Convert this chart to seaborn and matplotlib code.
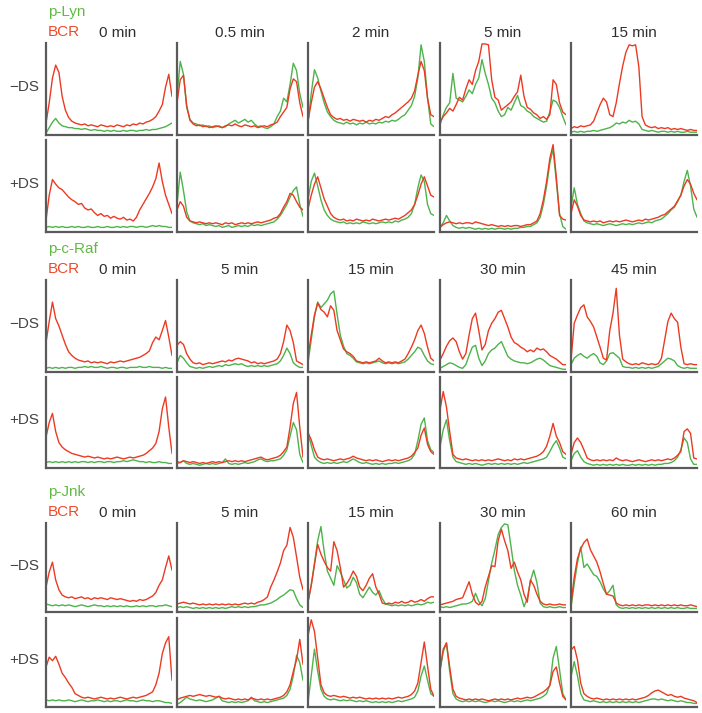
import numpy as np
import matplotlib
matplotlib.use("Agg")
import matplotlib.pyplot as plt
import seaborn as sns

W, H = 702, 713
GREEN = "#4DB34A"
RED = "#EC3A22"
LABEL_GREEN = "#62B946"
LABEL_RED = "#EE4A2C"
SPINE = "#5A5A5A"

# time points per marker
lyn_times = ["0 min", "0.5 min", "2 min", "5 min", "15 min"]
raf_times = ["0 min", "5 min", "15 min", "30 min", "45 min"]
jnk_times = ["0 min", "5 min", "15 min", "30 min", "60 min"]

# ---- p-Lyn, -DS (fraction of panel height along the line scan)
lyn_neg_c1_g = [0.02, 0.08, 0.14, 0.18, 0.13, 0.10, 0.09, 0.08, 0.08, 0.07, 0.07, 0.06, 0.07, 0.06, 0.05, 0.06, 0.05, 0.05, 0.04, 0.05, 0.04, 0.05, 0.04, 0.04, 0.05, 0.04, 0.05, 0.05, 0.04, 0.05, 0.05, 0.06, 0.05, 0.06, 0.06, 0.07, 0.08, 0.09, 0.11, 0.13]
lyn_neg_c1_r = [0.13, 0.35, 0.62, 0.76, 0.68, 0.42, 0.27, 0.19, 0.15, 0.13, 0.12, 0.11, 0.12, 0.10, 0.11, 0.10, 0.09, 0.11, 0.10, 0.09, 0.10, 0.09, 0.11, 0.10, 0.09, 0.11, 0.10, 0.12, 0.11, 0.13, 0.12, 0.14, 0.15, 0.17, 0.20, 0.26, 0.33, 0.52, 0.66, 0.42]
lyn_neg_c2_g = [0.42, 0.80, 0.66, 0.30, 0.17, 0.13, 0.12, 0.10, 0.11, 0.09, 0.10, 0.08, 0.09, 0.10, 0.08, 0.09, 0.12, 0.14, 0.16, 0.13, 0.15, 0.17, 0.14, 0.16, 0.12, 0.09, 0.10, 0.08, 0.07, 0.09, 0.12, 0.20, 0.26, 0.40, 0.36, 0.55, 0.78, 0.70, 0.45, 0.30]
lyn_neg_c2_r = [0.35, 0.60, 0.65, 0.32, 0.16, 0.12, 0.10, 0.11, 0.09, 0.10, 0.08, 0.09, 0.10, 0.09, 0.08, 0.10, 0.11, 0.10, 0.12, 0.10, 0.09, 0.11, 0.10, 0.09, 0.10, 0.08, 0.09, 0.10, 0.09, 0.11, 0.12, 0.14, 0.20, 0.25, 0.30, 0.50, 0.61, 0.58, 0.35, 0.20]
lyn_neg_c3_g = [0.13, 0.45, 0.71, 0.62, 0.48, 0.35, 0.25, 0.20, 0.16, 0.14, 0.13, 0.12, 0.14, 0.12, 0.13, 0.11, 0.13, 0.12, 0.14, 0.12, 0.13, 0.12, 0.14, 0.13, 0.15, 0.14, 0.16, 0.15, 0.17, 0.20, 0.22, 0.27, 0.32, 0.42, 0.62, 0.98, 0.80, 0.40, 0.12, 0.09]
lyn_neg_c3_r = [0.15, 0.35, 0.52, 0.58, 0.50, 0.40, 0.30, 0.22, 0.19, 0.17, 0.18, 0.16, 0.17, 0.15, 0.17, 0.16, 0.15, 0.16, 0.14, 0.16, 0.15, 0.17, 0.16, 0.18, 0.20, 0.19, 0.22, 0.24, 0.27, 0.30, 0.33, 0.36, 0.40, 0.48, 0.65, 0.80, 0.70, 0.40, 0.22, 0.20]
lyn_neg_c4_g = [0.11, 0.22, 0.30, 0.35, 0.67, 0.40, 0.38, 0.36, 0.42, 0.49, 0.45, 0.55, 0.62, 0.82, 0.67, 0.55, 0.40, 0.35, 0.26, 0.20, 0.22, 0.30, 0.27, 0.35, 0.43, 0.32, 0.30, 0.26, 0.24, 0.20, 0.18, 0.16, 0.14, 0.15, 0.25, 0.38, 0.36, 0.30, 0.20, 0.11]
lyn_neg_c4_r = [0.14, 0.20, 0.24, 0.29, 0.26, 0.33, 0.41, 0.38, 0.50, 0.60, 0.55, 0.70, 0.80, 0.99, 0.99, 0.98, 0.60, 0.41, 0.38, 0.27, 0.30, 0.33, 0.36, 0.42, 0.47, 0.65, 0.42, 0.30, 0.28, 0.24, 0.22, 0.18, 0.20, 0.17, 0.22, 0.60, 0.55, 0.35, 0.25, 0.22]
lyn_neg_c5_g = [0.03, 0.04, 0.03, 0.04, 0.03, 0.04, 0.04, 0.05, 0.04, 0.05, 0.06, 0.07, 0.08, 0.10, 0.13, 0.12, 0.14, 0.13, 0.16, 0.14, 0.15, 0.12, 0.06, 0.05, 0.04, 0.05, 0.04, 0.03, 0.04, 0.04, 0.03, 0.04, 0.03, 0.04, 0.03, 0.03, 0.04, 0.03, 0.03, 0.03]
lyn_neg_c5_r = [0.07, 0.09, 0.08, 0.10, 0.09, 0.10, 0.11, 0.15, 0.24, 0.33, 0.40, 0.36, 0.22, 0.20, 0.35, 0.56, 0.75, 0.90, 0.98, 0.97, 0.98, 0.74, 0.20, 0.11, 0.09, 0.08, 0.09, 0.07, 0.08, 0.07, 0.08, 0.06, 0.07, 0.06, 0.07, 0.06, 0.05, 0.06, 0.05, 0.05]

# ---- p-Lyn, +DS
lyn_pos_c1_g = [0.05, 0.06, 0.05, 0.06, 0.05, 0.06, 0.05, 0.05, 0.06, 0.05, 0.06, 0.05, 0.05, 0.06, 0.05, 0.05, 0.06, 0.05, 0.05, 0.06, 0.05, 0.05, 0.06, 0.05, 0.06, 0.05, 0.06, 0.06, 0.05, 0.06, 0.06, 0.05, 0.06, 0.07, 0.06, 0.07, 0.06, 0.06, 0.05, 0.05]
lyn_pos_c1_r = [0.13, 0.40, 0.57, 0.52, 0.48, 0.46, 0.42, 0.38, 0.35, 0.33, 0.30, 0.31, 0.26, 0.24, 0.25, 0.21, 0.18, 0.20, 0.17, 0.18, 0.15, 0.17, 0.15, 0.14, 0.16, 0.13, 0.14, 0.12, 0.16, 0.24, 0.30, 0.36, 0.42, 0.49, 0.58, 0.75, 0.55, 0.40, 0.30, 0.20]
lyn_pos_c2_g = [0.30, 0.65, 0.45, 0.22, 0.12, 0.10, 0.09, 0.08, 0.09, 0.07, 0.08, 0.07, 0.06, 0.07, 0.05, 0.06, 0.07, 0.05, 0.06, 0.07, 0.06, 0.07, 0.06, 0.08, 0.07, 0.08, 0.07, 0.08, 0.09, 0.10, 0.11, 0.14, 0.18, 0.24, 0.30, 0.38, 0.45, 0.49, 0.30, 0.17]
lyn_pos_c2_r = [0.24, 0.33, 0.28, 0.16, 0.12, 0.11, 0.10, 0.11, 0.10, 0.09, 0.10, 0.09, 0.10, 0.09, 0.08, 0.10, 0.09, 0.10, 0.08, 0.09, 0.10, 0.09, 0.10, 0.09, 0.10, 0.11, 0.10, 0.11, 0.12, 0.13, 0.15, 0.16, 0.20, 0.27, 0.33, 0.42, 0.40, 0.33, 0.27, 0.24]
lyn_pos_c3_g = [0.35, 0.55, 0.64, 0.50, 0.35, 0.24, 0.18, 0.14, 0.12, 0.11, 0.10, 0.11, 0.09, 0.10, 0.09, 0.10, 0.09, 0.11, 0.10, 0.09, 0.10, 0.09, 0.10, 0.11, 0.10, 0.11, 0.10, 0.12, 0.11, 0.13, 0.14, 0.16, 0.20, 0.30, 0.48, 0.62, 0.55, 0.30, 0.20, 0.18]
lyn_pos_c3_r = [0.25, 0.40, 0.52, 0.60, 0.48, 0.36, 0.28, 0.20, 0.16, 0.14, 0.13, 0.14, 0.12, 0.13, 0.12, 0.14, 0.13, 0.12, 0.13, 0.12, 0.14, 0.13, 0.12, 0.13, 0.14, 0.13, 0.14, 0.15, 0.14, 0.16, 0.18, 0.21, 0.24, 0.30, 0.40, 0.52, 0.60, 0.50, 0.40, 0.38]
lyn_pos_c4_g = [0.05, 0.10, 0.18, 0.12, 0.07, 0.05, 0.04, 0.05, 0.04, 0.05, 0.04, 0.03, 0.04, 0.03, 0.04, 0.03, 0.04, 0.03, 0.04, 0.04, 0.03, 0.04, 0.03, 0.04, 0.04, 0.05, 0.05, 0.06, 0.06, 0.08, 0.10, 0.16, 0.30, 0.50, 0.75, 0.90, 0.55, 0.20, 0.06, 0.03]
lyn_pos_c4_r = [0.05, 0.08, 0.10, 0.11, 0.10, 0.09, 0.10, 0.09, 0.10, 0.10, 0.09, 0.11, 0.10, 0.09, 0.08, 0.07, 0.08, 0.07, 0.06, 0.07, 0.06, 0.07, 0.06, 0.07, 0.07, 0.06, 0.07, 0.08, 0.08, 0.10, 0.12, 0.20, 0.35, 0.55, 0.80, 0.95, 0.60, 0.18, 0.14, 0.13]
lyn_pos_c5_g = [0.27, 0.48, 0.30, 0.20, 0.12, 0.10, 0.09, 0.08, 0.09, 0.08, 0.07, 0.08, 0.09, 0.08, 0.07, 0.08, 0.09, 0.08, 0.09, 0.08, 0.09, 0.10, 0.09, 0.10, 0.11, 0.10, 0.12, 0.13, 0.14, 0.17, 0.20, 0.24, 0.27, 0.33, 0.40, 0.55, 0.67, 0.50, 0.25, 0.16]
lyn_pos_c5_r = [0.20, 0.35, 0.28, 0.18, 0.13, 0.12, 0.11, 0.12, 0.11, 0.12, 0.10, 0.11, 0.12, 0.11, 0.12, 0.11, 0.12, 0.13, 0.12, 0.11, 0.12, 0.13, 0.12, 0.14, 0.13, 0.14, 0.15, 0.16, 0.18, 0.19, 0.22, 0.25, 0.28, 0.34, 0.40, 0.50, 0.57, 0.52, 0.42, 0.35]

# ---- p-c-Raf, -DS
raf_neg_c1_g = [0.04, 0.05, 0.04, 0.05, 0.04, 0.05, 0.04, 0.05, 0.05, 0.04, 0.05, 0.05, 0.06, 0.05, 0.06, 0.05, 0.05, 0.06, 0.05, 0.04, 0.05, 0.05, 0.04, 0.05, 0.05, 0.04, 0.05, 0.05, 0.05, 0.06, 0.05, 0.05, 0.06, 0.05, 0.05, 0.05, 0.04, 0.05, 0.04, 0.04]
raf_neg_c1_r = [0.32, 0.55, 0.76, 0.58, 0.50, 0.40, 0.30, 0.22, 0.18, 0.15, 0.13, 0.12, 0.11, 0.12, 0.10, 0.11, 0.10, 0.11, 0.10, 0.09, 0.11, 0.10, 0.11, 0.12, 0.11, 0.12, 0.13, 0.14, 0.15, 0.16, 0.18, 0.20, 0.23, 0.32, 0.38, 0.35, 0.45, 0.56, 0.38, 0.18]
raf_neg_c2_g = [0.10, 0.18, 0.15, 0.10, 0.06, 0.05, 0.04, 0.05, 0.04, 0.05, 0.06, 0.05, 0.06, 0.07, 0.06, 0.08, 0.07, 0.08, 0.09, 0.08, 0.09, 0.07, 0.06, 0.07, 0.06, 0.07, 0.06, 0.07, 0.06, 0.07, 0.08, 0.09, 0.12, 0.18, 0.26, 0.20, 0.10, 0.07, 0.05, 0.05]
raf_neg_c2_r = [0.29, 0.33, 0.30, 0.20, 0.14, 0.10, 0.09, 0.10, 0.08, 0.09, 0.10, 0.09, 0.10, 0.11, 0.12, 0.11, 0.13, 0.12, 0.14, 0.15, 0.14, 0.13, 0.12, 0.10, 0.11, 0.09, 0.10, 0.09, 0.10, 0.11, 0.12, 0.14, 0.20, 0.33, 0.51, 0.45, 0.32, 0.12, 0.10, 0.08]
raf_neg_c3_g = [0.10, 0.35, 0.60, 0.76, 0.70, 0.74, 0.78, 0.85, 0.88, 0.63, 0.40, 0.28, 0.20, 0.18, 0.15, 0.11, 0.10, 0.09, 0.10, 0.09, 0.10, 0.11, 0.12, 0.10, 0.09, 0.10, 0.09, 0.10, 0.09, 0.10, 0.11, 0.14, 0.18, 0.22, 0.27, 0.25, 0.18, 0.12, 0.09, 0.08]
raf_neg_c3_r = [0.16, 0.40, 0.62, 0.75, 0.68, 0.65, 0.60, 0.72, 0.67, 0.45, 0.35, 0.25, 0.22, 0.20, 0.17, 0.12, 0.11, 0.10, 0.11, 0.10, 0.11, 0.12, 0.15, 0.12, 0.10, 0.11, 0.10, 0.11, 0.10, 0.12, 0.14, 0.20, 0.27, 0.35, 0.45, 0.51, 0.42, 0.27, 0.15, 0.12]
raf_neg_c4_g = [0.04, 0.06, 0.08, 0.10, 0.09, 0.07, 0.05, 0.04, 0.08, 0.18, 0.27, 0.29, 0.15, 0.07, 0.12, 0.20, 0.24, 0.26, 0.30, 0.33, 0.25, 0.17, 0.14, 0.12, 0.11, 0.10, 0.10, 0.09, 0.10, 0.12, 0.14, 0.15, 0.13, 0.10, 0.07, 0.06, 0.05, 0.04, 0.03, 0.03]
raf_neg_c4_r = [0.13, 0.20, 0.28, 0.34, 0.37, 0.33, 0.22, 0.14, 0.20, 0.40, 0.58, 0.64, 0.45, 0.24, 0.30, 0.45, 0.53, 0.58, 0.65, 0.67, 0.58, 0.49, 0.38, 0.32, 0.30, 0.27, 0.25, 0.22, 0.24, 0.22, 0.26, 0.24, 0.25, 0.22, 0.18, 0.16, 0.14, 0.11, 0.08, 0.08]
raf_neg_c5_g = [0.08, 0.15, 0.18, 0.20, 0.17, 0.15, 0.18, 0.20, 0.17, 0.10, 0.08, 0.12, 0.20, 0.21, 0.18, 0.15, 0.06, 0.05, 0.05, 0.04, 0.05, 0.04, 0.05, 0.04, 0.05, 0.04, 0.05, 0.06, 0.09, 0.12, 0.15, 0.14, 0.12, 0.07, 0.05, 0.04, 0.05, 0.04, 0.04, 0.04]
raf_neg_c5_r = [0.13, 0.53, 0.62, 0.70, 0.73, 0.60, 0.55, 0.49, 0.38, 0.27, 0.15, 0.13, 0.45, 0.64, 0.91, 0.40, 0.14, 0.11, 0.09, 0.08, 0.09, 0.08, 0.10, 0.09, 0.08, 0.09, 0.08, 0.09, 0.15, 0.35, 0.55, 0.64, 0.58, 0.54, 0.27, 0.09, 0.08, 0.09, 0.08, 0.08]

# ---- p-c-Raf, +DS
raf_pos_c1_g = [0.06, 0.07, 0.06, 0.07, 0.06, 0.07, 0.06, 0.07, 0.06, 0.07, 0.06, 0.07, 0.07, 0.06, 0.07, 0.06, 0.07, 0.07, 0.06, 0.07, 0.07, 0.06, 0.07, 0.07, 0.08, 0.07, 0.08, 0.09, 0.08, 0.07, 0.07, 0.06, 0.07, 0.06, 0.06, 0.07, 0.06, 0.06, 0.05, 0.05]
raf_pos_c1_r = [0.34, 0.50, 0.60, 0.40, 0.28, 0.23, 0.20, 0.18, 0.16, 0.15, 0.14, 0.13, 0.12, 0.13, 0.12, 0.11, 0.12, 0.11, 0.10, 0.11, 0.10, 0.11, 0.12, 0.11, 0.10, 0.11, 0.12, 0.11, 0.12, 0.13, 0.14, 0.16, 0.19, 0.22, 0.27, 0.40, 0.65, 0.78, 0.45, 0.16]
raf_pos_c2_g = [0.05, 0.06, 0.08, 0.05, 0.04, 0.05, 0.04, 0.03, 0.04, 0.05, 0.04, 0.05, 0.04, 0.05, 0.06, 0.10, 0.05, 0.04, 0.05, 0.04, 0.05, 0.06, 0.05, 0.06, 0.07, 0.09, 0.10, 0.08, 0.07, 0.08, 0.08, 0.09, 0.10, 0.14, 0.20, 0.35, 0.50, 0.42, 0.15, 0.06]
raf_pos_c2_r = [0.07, 0.06, 0.08, 0.07, 0.06, 0.07, 0.06, 0.05, 0.06, 0.05, 0.06, 0.07, 0.06, 0.07, 0.06, 0.07, 0.08, 0.07, 0.08, 0.07, 0.08, 0.07, 0.08, 0.09, 0.10, 0.11, 0.12, 0.10, 0.09, 0.10, 0.11, 0.12, 0.14, 0.18, 0.23, 0.45, 0.71, 0.83, 0.45, 0.12]
raf_pos_c3_g = [0.38, 0.25, 0.12, 0.08, 0.06, 0.05, 0.06, 0.05, 0.06, 0.05, 0.06, 0.07, 0.06, 0.08, 0.10, 0.08, 0.06, 0.05, 0.06, 0.05, 0.04, 0.05, 0.04, 0.05, 0.04, 0.05, 0.05, 0.06, 0.05, 0.06, 0.07, 0.08, 0.10, 0.15, 0.30, 0.48, 0.55, 0.30, 0.20, 0.17]
raf_pos_c3_r = [0.39, 0.31, 0.20, 0.12, 0.10, 0.09, 0.10, 0.09, 0.08, 0.09, 0.10, 0.09, 0.10, 0.11, 0.13, 0.11, 0.10, 0.09, 0.08, 0.09, 0.08, 0.09, 0.08, 0.07, 0.08, 0.09, 0.08, 0.09, 0.08, 0.09, 0.10, 0.11, 0.13, 0.17, 0.22, 0.36, 0.44, 0.26, 0.18, 0.15]
raf_pos_c4_g = [0.23, 0.42, 0.53, 0.30, 0.12, 0.07, 0.06, 0.05, 0.04, 0.05, 0.04, 0.05, 0.04, 0.03, 0.04, 0.05, 0.04, 0.05, 0.04, 0.05, 0.04, 0.05, 0.04, 0.05, 0.04, 0.05, 0.06, 0.05, 0.06, 0.07, 0.08, 0.09, 0.10, 0.12, 0.18, 0.25, 0.30, 0.22, 0.12, 0.10]
raf_pos_c4_r = [0.64, 0.84, 0.67, 0.40, 0.15, 0.11, 0.10, 0.09, 0.10, 0.09, 0.08, 0.09, 0.08, 0.09, 0.08, 0.09, 0.08, 0.09, 0.10, 0.09, 0.08, 0.09, 0.08, 0.10, 0.09, 0.10, 0.09, 0.10, 0.11, 0.12, 0.13, 0.15, 0.18, 0.24, 0.35, 0.49, 0.35, 0.28, 0.18, 0.15]
raf_pos_c5_g = [0.08, 0.16, 0.19, 0.12, 0.07, 0.05, 0.04, 0.03, 0.04, 0.03, 0.04, 0.03, 0.04, 0.03, 0.04, 0.03, 0.04, 0.03, 0.03, 0.04, 0.03, 0.04, 0.03, 0.04, 0.03, 0.04, 0.03, 0.04, 0.04, 0.05, 0.05, 0.06, 0.08, 0.12, 0.20, 0.33, 0.28, 0.10, 0.04, 0.04]
raf_pos_c5_r = [0.15, 0.28, 0.33, 0.28, 0.20, 0.11, 0.09, 0.08, 0.09, 0.08, 0.09, 0.08, 0.09, 0.08, 0.11, 0.09, 0.08, 0.09, 0.08, 0.07, 0.08, 0.09, 0.08, 0.07, 0.08, 0.09, 0.08, 0.09, 0.08, 0.09, 0.10, 0.09, 0.11, 0.14, 0.18, 0.40, 0.43, 0.38, 0.11, 0.10]

# ---- p-Jnk, -DS
jnk_neg_c1_g = [0.09, 0.08, 0.07, 0.08, 0.07, 0.08, 0.07, 0.08, 0.07, 0.06, 0.07, 0.08, 0.07, 0.06, 0.07, 0.08, 0.07, 0.07, 0.06, 0.07, 0.06, 0.07, 0.06, 0.07, 0.06, 0.07, 0.06, 0.06, 0.07, 0.06, 0.07, 0.06, 0.07, 0.07, 0.06, 0.07, 0.07, 0.08, 0.07, 0.06]
jnk_neg_c1_r = [0.28, 0.45, 0.56, 0.36, 0.25, 0.19, 0.17, 0.16, 0.17, 0.15, 0.16, 0.17, 0.15, 0.16, 0.14, 0.16, 0.15, 0.16, 0.15, 0.14, 0.16, 0.15, 0.14, 0.15, 0.14, 0.13, 0.12, 0.13, 0.12, 0.14, 0.13, 0.14, 0.16, 0.18, 0.22, 0.30, 0.36, 0.50, 0.63, 0.47]
jnk_neg_c2_g = [0.05, 0.06, 0.05, 0.06, 0.05, 0.04, 0.05, 0.04, 0.05, 0.04, 0.05, 0.04, 0.05, 0.04, 0.05, 0.04, 0.05, 0.06, 0.05, 0.06, 0.05, 0.06, 0.05, 0.06, 0.06, 0.07, 0.08, 0.08, 0.09, 0.10, 0.12, 0.14, 0.17, 0.19, 0.22, 0.25, 0.24, 0.15, 0.08, 0.05]
jnk_neg_c2_r = [0.09, 0.10, 0.11, 0.10, 0.09, 0.10, 0.09, 0.08, 0.09, 0.08, 0.09, 0.08, 0.09, 0.08, 0.09, 0.08, 0.09, 0.08, 0.09, 0.08, 0.09, 0.10, 0.09, 0.10, 0.09, 0.11, 0.12, 0.14, 0.17, 0.28, 0.36, 0.45, 0.55, 0.69, 0.75, 0.95, 0.84, 0.62, 0.39, 0.25]
jnk_neg_c3_g = [0.11, 0.30, 0.55, 0.80, 0.96, 0.68, 0.46, 0.38, 0.30, 0.52, 0.45, 0.36, 0.27, 0.30, 0.39, 0.33, 0.20, 0.16, 0.22, 0.28, 0.22, 0.19, 0.24, 0.15, 0.09, 0.08, 0.07, 0.08, 0.07, 0.08, 0.07, 0.08, 0.07, 0.08, 0.09, 0.08, 0.09, 0.11, 0.10, 0.11]
jnk_neg_c3_r = [0.11, 0.30, 0.53, 0.76, 0.65, 0.57, 0.50, 0.46, 0.79, 0.69, 0.50, 0.28, 0.32, 0.38, 0.46, 0.40, 0.28, 0.24, 0.30, 0.38, 0.43, 0.28, 0.20, 0.10, 0.09, 0.10, 0.09, 0.11, 0.10, 0.12, 0.10, 0.11, 0.13, 0.11, 0.12, 0.14, 0.12, 0.15, 0.17, 0.17]
jnk_neg_c4_g = [0.06, 0.05, 0.06, 0.05, 0.06, 0.07, 0.08, 0.09, 0.09, 0.10, 0.12, 0.21, 0.12, 0.07, 0.15, 0.35, 0.55, 0.70, 0.87, 0.95, 0.99, 0.98, 0.73, 0.47, 0.30, 0.19, 0.06, 0.15, 0.35, 0.47, 0.33, 0.10, 0.06, 0.05, 0.06, 0.05, 0.05, 0.06, 0.05, 0.05]
jnk_neg_c4_r = [0.08, 0.09, 0.10, 0.11, 0.12, 0.14, 0.15, 0.16, 0.25, 0.34, 0.20, 0.11, 0.08, 0.12, 0.28, 0.40, 0.52, 0.51, 0.80, 0.93, 0.80, 0.69, 0.49, 0.56, 0.45, 0.36, 0.20, 0.11, 0.36, 0.30, 0.20, 0.12, 0.09, 0.08, 0.09, 0.08, 0.08, 0.09, 0.08, 0.08]
jnk_neg_c5_g = [0.05, 0.32, 0.55, 0.73, 0.50, 0.54, 0.48, 0.42, 0.40, 0.34, 0.26, 0.20, 0.24, 0.30, 0.08, 0.05, 0.04, 0.05, 0.04, 0.05, 0.04, 0.05, 0.04, 0.05, 0.04, 0.05, 0.04, 0.05, 0.04, 0.05, 0.04, 0.05, 0.04, 0.05, 0.04, 0.04, 0.05, 0.04, 0.04, 0.04]
jnk_neg_c5_r = [0.09, 0.39, 0.60, 0.71, 0.78, 0.82, 0.70, 0.63, 0.56, 0.45, 0.32, 0.20, 0.19, 0.18, 0.10, 0.08, 0.07, 0.08, 0.07, 0.08, 0.07, 0.08, 0.07, 0.08, 0.08, 0.07, 0.08, 0.07, 0.08, 0.07, 0.08, 0.07, 0.08, 0.07, 0.08, 0.07, 0.07, 0.08, 0.07, 0.06]

# ---- p-Jnk, +DS
jnk_pos_c1_g = [0.08, 0.07, 0.08, 0.07, 0.08, 0.07, 0.07, 0.08, 0.07, 0.06, 0.07, 0.08, 0.07, 0.06, 0.07, 0.07, 0.08, 0.07, 0.06, 0.07, 0.06, 0.07, 0.07, 0.06, 0.07, 0.08, 0.07, 0.07, 0.06, 0.07, 0.08, 0.07, 0.07, 0.06, 0.07, 0.07, 0.06, 0.05, 0.05, 0.04]
jnk_pos_c1_r = [0.45, 0.56, 0.52, 0.57, 0.48, 0.38, 0.33, 0.27, 0.22, 0.15, 0.13, 0.11, 0.10, 0.11, 0.10, 0.09, 0.10, 0.11, 0.10, 0.09, 0.10, 0.09, 0.10, 0.11, 0.10, 0.09, 0.10, 0.11, 0.10, 0.11, 0.12, 0.13, 0.15, 0.17, 0.25, 0.38, 0.60, 0.72, 0.79, 0.30]
jnk_pos_c2_g = [0.03, 0.05, 0.08, 0.11, 0.09, 0.08, 0.07, 0.08, 0.07, 0.06, 0.07, 0.08, 0.10, 0.12, 0.07, 0.06, 0.05, 0.06, 0.05, 0.06, 0.05, 0.06, 0.07, 0.11, 0.07, 0.06, 0.05, 0.06, 0.05, 0.06, 0.07, 0.08, 0.09, 0.10, 0.13, 0.20, 0.35, 0.58, 0.50, 0.30]
jnk_pos_c2_r = [0.08, 0.10, 0.11, 0.12, 0.13, 0.12, 0.13, 0.14, 0.13, 0.12, 0.13, 0.12, 0.11, 0.12, 0.10, 0.09, 0.10, 0.09, 0.08, 0.09, 0.08, 0.09, 0.08, 0.10, 0.09, 0.08, 0.09, 0.08, 0.09, 0.08, 0.09, 0.10, 0.11, 0.13, 0.17, 0.25, 0.40, 0.53, 0.76, 0.48]
jnk_pos_c3_g = [0.05, 0.35, 0.65, 0.40, 0.20, 0.12, 0.09, 0.08, 0.09, 0.08, 0.07, 0.08, 0.07, 0.08, 0.07, 0.06, 0.07, 0.06, 0.07, 0.06, 0.05, 0.06, 0.05, 0.06, 0.05, 0.06, 0.05, 0.06, 0.07, 0.06, 0.07, 0.08, 0.09, 0.11, 0.18, 0.35, 0.46, 0.30, 0.15, 0.12]
jnk_pos_c3_r = [0.80, 0.98, 0.85, 0.55, 0.25, 0.16, 0.13, 0.12, 0.13, 0.12, 0.11, 0.12, 0.11, 0.10, 0.11, 0.10, 0.11, 0.10, 0.09, 0.10, 0.09, 0.10, 0.09, 0.10, 0.09, 0.10, 0.09, 0.10, 0.11, 0.10, 0.11, 0.12, 0.14, 0.18, 0.27, 0.50, 0.73, 0.46, 0.20, 0.12]
jnk_pos_c4_g = [0.40, 0.62, 0.72, 0.40, 0.15, 0.09, 0.07, 0.06, 0.07, 0.06, 0.07, 0.06, 0.07, 0.06, 0.05, 0.06, 0.07, 0.06, 0.07, 0.06, 0.05, 0.06, 0.07, 0.06, 0.07, 0.06, 0.07, 0.08, 0.07, 0.08, 0.09, 0.10, 0.12, 0.15, 0.25, 0.55, 0.68, 0.42, 0.15, 0.08]
jnk_pos_c4_r = [0.42, 0.65, 0.72, 0.45, 0.20, 0.12, 0.10, 0.09, 0.08, 0.09, 0.08, 0.09, 0.08, 0.09, 0.08, 0.07, 0.08, 0.09, 0.08, 0.09, 0.08, 0.09, 0.08, 0.09, 0.10, 0.09, 0.10, 0.11, 0.10, 0.11, 0.13, 0.15, 0.17, 0.20, 0.24, 0.40, 0.45, 0.27, 0.12, 0.08]
jnk_pos_c5_g = [0.34, 0.51, 0.35, 0.15, 0.08, 0.07, 0.06, 0.07, 0.06, 0.05, 0.06, 0.05, 0.06, 0.05, 0.06, 0.05, 0.06, 0.05, 0.06, 0.05, 0.06, 0.05, 0.06, 0.07, 0.08, 0.09, 0.09, 0.08, 0.09, 0.08, 0.07, 0.08, 0.07, 0.06, 0.07, 0.06, 0.05, 0.05, 0.04, 0.04]
jnk_pos_c5_r = [0.64, 0.68, 0.53, 0.27, 0.15, 0.12, 0.10, 0.09, 0.10, 0.09, 0.08, 0.09, 0.08, 0.09, 0.08, 0.09, 0.08, 0.09, 0.08, 0.09, 0.08, 0.09, 0.10, 0.11, 0.13, 0.16, 0.18, 0.19, 0.17, 0.15, 0.13, 0.14, 0.12, 0.11, 0.12, 0.10, 0.09, 0.08, 0.07, 0.05]

groups = [
    ("p-Lyn", lyn_times,
     [[(lyn_neg_c1_g, lyn_neg_c1_r), (lyn_neg_c2_g, lyn_neg_c2_r), (lyn_neg_c3_g, lyn_neg_c3_r),
       (lyn_neg_c4_g, lyn_neg_c4_r), (lyn_neg_c5_g, lyn_neg_c5_r)],
      [(lyn_pos_c1_g, lyn_pos_c1_r), (lyn_pos_c2_g, lyn_pos_c2_r), (lyn_pos_c3_g, lyn_pos_c3_r),
       (lyn_pos_c4_g, lyn_pos_c4_r), (lyn_pos_c5_g, lyn_pos_c5_r)]]),
    ("p-c-Raf", raf_times,
     [[(raf_neg_c1_g, raf_neg_c1_r), (raf_neg_c2_g, raf_neg_c2_r), (raf_neg_c3_g, raf_neg_c3_r),
       (raf_neg_c4_g, raf_neg_c4_r), (raf_neg_c5_g, raf_neg_c5_r)],
      [(raf_pos_c1_g, raf_pos_c1_r), (raf_pos_c2_g, raf_pos_c2_r), (raf_pos_c3_g, raf_pos_c3_r),
       (raf_pos_c4_g, raf_pos_c4_r), (raf_pos_c5_g, raf_pos_c5_r)]]),
    ("p-Jnk", jnk_times,
     [[(jnk_neg_c1_g, jnk_neg_c1_r), (jnk_neg_c2_g, jnk_neg_c2_r), (jnk_neg_c3_g, jnk_neg_c3_r),
       (jnk_neg_c4_g, jnk_neg_c4_r), (jnk_neg_c5_g, jnk_neg_c5_r)],
      [(jnk_pos_c1_g, jnk_pos_c1_r), (jnk_pos_c2_g, jnk_pos_c2_r), (jnk_pos_c3_g, jnk_pos_c3_r),
       (jnk_pos_c4_g, jnk_pos_c4_r), (jnk_pos_c5_g, jnk_pos_c5_r)]]),
]
row_labels = ["\u2212DS", "+DS"]

# layout in pixels
col_left = [46, 177, 308, 440, 571]
col_w = 126
row_spans = [[(43, 135), (140, 232)], [(280, 372), (377, 468)], [(523, 612), (618, 707)]]
title_x0 = 118

sns.set_style("white")
plt.rcParams["font.family"] = ["Liberation Sans", "DejaVu Sans"]

fig = plt.figure(figsize=(W / 100, H / 100), dpi=100)


def fx(px):
    return px / W


def fy(py):
    return 1 - py / H


for gi, (marker, times, panels) in enumerate(groups):
    top0 = row_spans[gi][0][0]
    fig.text(fx(48), fy(top0 - 31), marker, color=LABEL_GREEN, fontsize=11, va="center", ha="left")
    fig.text(fx(48), fy(top0 - 11), "BCR", color=LABEL_RED, fontsize=11, va="center", ha="left")
    for ci, t in enumerate(times):
        cx = title_x0 if ci == 0 else col_left[ci] + col_w / 2
        fig.text(fx(cx), fy(top0 - 10), t, color="#2E2E2E", fontsize=11, va="center", ha="center")

    for ri in range(2):
        top, bottom = row_spans[gi][ri]
        fig.text(fx(39), fy((top + bottom) / 2 - 2), row_labels[ri], color="#444444",
                 fontsize=11, va="center", ha="right")
        for ci in range(5):
            green, bcr = panels[ri][ci]
            ax = fig.add_axes([fx(col_left[ci]), fy(bottom), col_w / W, (bottom - top) / H])
            sns.lineplot(x=np.linspace(0, 1, len(green)), y=green, ax=ax, color=GREEN, linewidth=1.0)
            sns.lineplot(x=np.linspace(0, 1, len(bcr)), y=bcr, ax=ax, color=RED, linewidth=1.0)
            ax.set_xlim(0, 1)
            ax.set_ylim(0, 1)
            ax.set_xticks([])
            ax.set_yticks([])
            ax.set_xlabel("")
            ax.set_ylabel("")
            ax.patch.set_alpha(0)
            for side in ["top", "right"]:
                ax.spines[side].set_visible(False)
            for side in ["left", "bottom"]:
                ax.spines[side].set_color(SPINE)
                ax.spines[side].set_linewidth(1.6)

fig.savefig("out.png", dpi=100)
